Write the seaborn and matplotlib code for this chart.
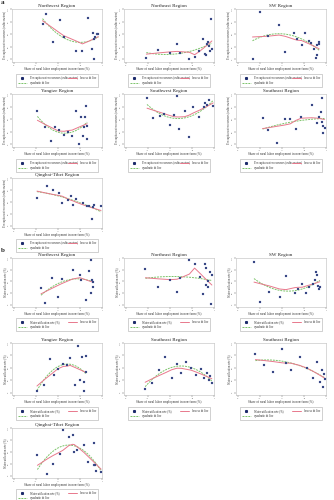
import numpy as np
import pandas as pd
import matplotlib
matplotlib.use("Agg")
import matplotlib.pyplot as plt
import seaborn as sns
from matplotlib.lines import Line2D

sns.set_theme(style="white")
plt.rcParams['font.family'] = ['Liberation Serif', 'DejaVu Serif']

XLABEL = "Share of rural labor employment in non-farm (%)"
YLAB_A = "Per capita water resources (cubic meters)"
YLAB_B = "Water utilization rate (%)"

titles_a = ["Northwest Region", "Northeast Region", "SW Region", "Yangtze Region",
            "Southwest Region", "Southeast Region", "Qinghai-Tibet Region"]
titles_b = ["Northwest Region", "Northeast Region", "SW Region", "Yangtze Region",
            "Southeast Region", "Southeast Region", "Qinghai-Tibet Region"]

# ---- panel a data (share %, per capita water resources index) ----
a1_x = [32.6, 36.3, 44.4, 51.9, 56.7, 70.4, 77.8, 84.4, 88.1, 89.6, 90.7, 91.1, 92.6, 94.1, 95.9]
a1_y = [70.6, 89.4, 34.4, 78.1, 43.8, 16.9, 17.5, 83.1, 20.6, 53.1, 1.3, 40.6, 44.4, 50.0, 51.3]
a2_x = [23.3, 36.6, 50.5, 58.2, 61.0, 72.1, 78.0, 82.9, 87.8, 90.2, 91.3, 92.0, 93.4, 94.4, 95.8, 96.9, 97.6]
a2_y = [3.4, 19.3, 13.1, 31.0, 13.8, 1.4, 4.8, 15.9, 41.4, 10.3, 8.3, 29.7, 34.5, 27.6, 17.2, 80.7, 20.7]
a3_x = [16.7, 24.8, 34.4, 46.8, 53.9, 63.8, 67.4, 72.3, 76.2, 80.5, 83.3, 86.5, 88.7, 89.4, 90.1, 91.5, 92.2]
a3_y = [1.0, 93.3, 46.7, 68.7, 14.7, 52.0, 41.3, 28.0, 53.3, 36.7, 33.3, 20.0, 3.3, 8.0, 28.0, 34.7, 30.0]
a4_x = [26.8, 35.0, 42.1, 46.4, 50.7, 57.1, 61.4, 66.1, 70.7, 73.6, 76.1, 78.6, 80.0, 81.1, 81.8, 82.9, 83.2]
a4_y = [66.5, 35.5, 7.7, 35.5, 27.7, 19.4, 24.5, 16.1, 66.5, 1.9, 53.5, 17.4, 35.5, 54.8, 76.1, 36.8, 11.0]
a5_x = [24.1, 31.0, 38.6, 43.8, 50.0, 55.2, 57.9, 60.3, 66.6, 71.4, 76.6, 83.4, 88.6, 90.3, 92.4, 94.1, 99.0]
a5_y = [92.3, 52.9, 56.1, 60.0, 38.7, 58.1, 96.8, 30.3, 65.8, 14.2, 73.5, 54.8, 74.2, 81.9, 77.4, 88.4, 75.5]
a6_x = [28.1, 34.2, 44.5, 53.1, 59.6, 65.8, 71.9, 83.9, 89.7, 92.5, 93.8, 95.2, 95.9, 96.6, 96.9, 98.3]
a6_y = [52.0, 28.0, 2.0, 50.0, 51.3, 31.3, 55.3, 78.7, 43.3, 55.3, 64.7, 45.3, 92.0, 36.7, 23.3, 33.3]
a7_x = [26.3, 37.9, 43.9, 51.2, 55.1, 61.4, 64.9, 67.4, 70.2, 78.2, 82.5, 84.9, 88.8, 89.5, 90.5, 98.9]
a7_y = [58.1, 82.6, 74.2, 67.7, 47.7, 54.8, 61.3, 43.2, 56.8, 46.5, 40.6, 40.6, 12.9, 40.0, 43.2, 40.6]

# ---- panel b data (share %, water utilization rate index) ----
b1_x = [30.9, 35.1, 42.8, 49.8, 54.7, 66.7, 74.7, 76.5, 81.4, 84.9, 87.0, 87.7, 88.8, 89.5, 90.2]
b1_y = [36.7, 3.2, 57.0, 15.8, 55.1, 74.7, 63.3, 51.9, 10.8, 71.5, 94.9, 25.3, 52.5, 47.5, 38.0]
b2_x = [22.3, 36.6, 50.5, 58.2, 61.0, 72.1, 78.0, 83.6, 87.8, 90.2, 90.9, 91.3, 93.0, 93.7, 95.1, 96.5, 97.6]
b2_y = [76.1, 38.7, 52.9, 27.7, 58.1, 94.8, 87.1, 59.4, 23.9, 86.5, 78.7, 41.9, 51.6, 37.4, 69.0, 1.3, 64.5]
b3_x = [18.4, 25.5, 35.5, 47.5, 54.6, 64.5, 68.1, 73.0, 77.0, 80.5, 85.8, 87.9, 88.7, 90.1, 91.1, 92.2, 92.9]
b3_y = [92.3, 6.5, 27.1, 16.1, 61.3, 24.5, 33.5, 43.9, 24.5, 36.8, 43.9, 52.9, 71.0, 62.6, 40.6, 33.5, 38.7]
b4_x = [26.3, 34.4, 41.4, 45.6, 49.8, 56.1, 60.4, 63.9, 69.5, 72.3, 74.7, 77.2, 79.3, 80.0, 81.4, 82.1]
b4_y = [3.2, 16.1, 67.7, 34.8, 48.4, 58.1, 56.1, 69.0, 16.1, 93.5, 25.8, 71.0, 21.3, 3.2, 74.2, 41.9]
b5_x = [22.0, 30.0, 38.0, 45.0, 52.0, 58.0, 63.0, 68.0, 74.0, 80.0, 85.0, 89.0, 92.0, 94.0, 96.0, 97.5]
b5_y = [8.0, 20.0, 45.0, 72.0, 30.0, 58.0, 40.0, 62.0, 50.0, 35.0, 48.0, 30.0, 40.0, 25.0, 33.0, 20.0]
b6_x = [20.0, 30.0, 40.0, 50.0, 55.0, 60.0, 70.0, 78.0, 85.0, 90.0, 93.0, 95.0, 96.5, 97.5, 98.5]
b6_y = [78.0, 55.0, 42.0, 88.0, 60.0, 45.0, 72.0, 50.0, 30.0, 62.0, 22.0, 45.0, 12.0, 38.0, 28.0]
b7_x = [26.8, 38.2, 44.6, 52.1, 55.7, 62.5, 66.8, 68.6, 71.4, 79.6, 83.9, 90.4, 91.1, 92.1, 92.9, 99.0]
b7_y = [43.0, 3.2, 24.7, 45.6, 94.9, 81.0, 85.4, 48.7, 53.8, 64.6, 28.5, 67.7, 21.5, 22.2, 9.5, 7.6]

panels_a = [(a1_x, a1_y), (a2_x, a2_y), (a3_x, a3_y), (a4_x, a4_y), (a5_x, a5_y), (a6_x, a6_y), (a7_x, a7_y)]
panels_b = [(b1_x, b1_y), (b2_x, b2_y), (b3_x, b3_y), (b4_x, b4_y), (b5_x, b5_y), (b6_x, b6_y), (b7_x, b7_y)]

PT_COLOR = "#1c2a6b"
LOW_COLOR = "#e8788c"
QUAD_COLOR = "#7cc46a"


def lowess(x, y, frac=0.8):
    x = np.asarray(x, float)
    y = np.asarray(y, float)
    order = np.argsort(x)
    x, y = x[order], y[order]
    n = len(x)
    k = max(int(np.ceil(frac * n)), 3)
    out = np.empty(n)
    for i in range(n):
        d = np.abs(x - x[i])
        h = np.sort(d)[k - 1] * 1.0001 + 1e-9
        w = np.clip(1 - (d / h) ** 3, 0, None) ** 3
        W = np.sqrt(w)
        A = np.vstack([np.ones(n), x - x[i]]).T
        coef, *_ = np.linalg.lstsq(A * W[:, None], y * W, rcond=None)
        out[i] = coef[0]
    return x, out


W_PX, H_PX = 334, 500
fig = plt.figure(figsize=(W_PX / 100, H_PX / 100), dpi=100)

col_left = [12, 124, 236]
col_w = 90
rows_a = [(9, 62), (94, 147), (178, 228)]
rows_b = [(258, 307), (343, 395), (428, 478)]


def draw_panel(left, top, bottom, title, xs, ys, ylab, ptlabel):
    ax = fig.add_axes([left / W_PX, 1 - bottom / H_PX, col_w / W_PX, (bottom - top) / H_PX])
    df = pd.DataFrame({"x": xs, "y": ys})
    sns.scatterplot(data=df, x="x", y="y", ax=ax, color=PT_COLOR, s=3, marker="s",
                    edgecolor="#8899cc", linewidth=0.2, zorder=3)
    sns.regplot(data=df, x="x", y="y", ax=ax, order=2, ci=None, scatter=False,
                line_kws=dict(color=QUAD_COLOR, lw=0.7, ls=(0, (2, 1))))
    lx, ly = lowess(xs, ys)
    sns.lineplot(x=lx, y=ly, ax=ax, color=LOW_COLOR, lw=0.7, sort=True)
    ax.set_xlim(-2, 100)
    ax.set_ylim(-5, 100)
    ax.set_xticks([0, 25, 50, 75, 100])
    ax.set_xticklabels(["0", ".25", ".5", ".75", "1"])
    ax.set_yticks([0, 25, 50, 75, 100])
    ax.set_yticklabels(["0", "25", "50", "75", "100"], rotation=90, va="center")
    ax.tick_params(axis="both", labelsize=1.7, length=1.2, width=0.3, pad=0.8,
                   bottom=True, left=True, colors="#555555")
    for s in ax.spines.values():
        s.set_linewidth(0.4)
        s.set_edgecolor("#bbbbbb")
    ax.set_title(title, fontsize=3.6, pad=1.5, color="#222222")
    ax.set_xlabel(XLABEL, fontsize=2.3, labelpad=1, color="#333333")
    ax.set_ylabel(ylab, fontsize=2.1, labelpad=1, color="#333333")
    handles = [
        Line2D([], [], ls="none", marker="s", ms=1.2, color=PT_COLOR),
        Line2D([], [], color=QUAD_COLOR, lw=0.7, ls=(0, (2, 1))),
        Line2D([], [], color=LOW_COLOR, lw=0.7),
    ]
    labels = [ptlabel, "quadratic fit line", "lowess fit line"]
    leg = ax.legend(handles, labels, ncol=2, loc="upper left",
                    bbox_to_anchor=(0.03, -0.2, 0.94, 0), mode="expand",
                    fontsize=2.1, frameon=True, fancybox=False, handlelength=3,
                    borderpad=0.6, labelspacing=0.4, handletextpad=1)
    leg.get_frame().set_linewidth(0.4)
    leg.get_frame().set_edgecolor("#999999")
    return ax


for i, (xs, ys) in enumerate(panels_a):
    r, c = divmod(i, 3)
    draw_panel(col_left[c], rows_a[r][0], rows_a[r][1], titles_a[i], xs, ys, YLAB_A,
               "Per capita water resources (cubic meters)")
for i, (xs, ys) in enumerate(panels_b):
    r, c = divmod(i, 3)
    draw_panel(col_left[c], rows_b[r][0], rows_b[r][1], titles_b[i], xs, ys, YLAB_B,
               "Water utilization rate (%)")

fig.text(1 / W_PX, 1 - 3 / H_PX, "a", fontsize=5, fontweight="bold", va="center")
fig.text(1 / W_PX, 1 - 251 / H_PX, "b", fontsize=5, fontweight="bold", va="center")

fig.savefig("out.png", dpi=100, facecolor="white")
